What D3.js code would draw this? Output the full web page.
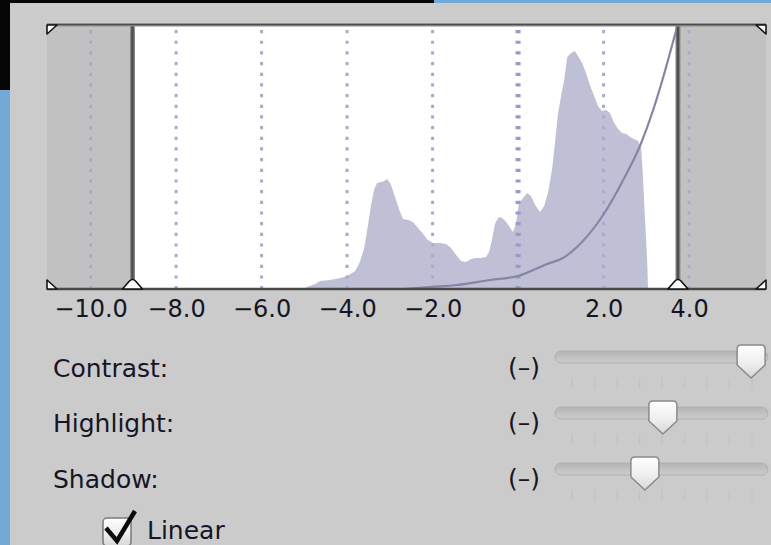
<!DOCTYPE html>
<html>
<head>
<meta charset="utf-8">
<script src="https://cdn.jsdelivr.net/npm/d3@7/dist/d3.min.js"></script>
<style>
  html, body { margin: 0; padding: 0; background: #cbcbcb; overflow: hidden; }
  svg { display: block; }
  text { font-family: "DejaVu Sans", "Verdana", sans-serif; fill: #151525; }
</style>
</head>
<body>
<svg id="chart" width="771" height="545"></svg>
<script>
// ---------------- data ----------------
const axisDomain = [-11.02, 5.80];            // value range of the histogram panel
const tickValues = [-10, -8, -6, -4, -2, 0, 2, 4];
const clipLimits = [-9.02, 3.74];             // low / high clip handles
const countMax = 264;                          // top of panel in count units

const histV = [-5.01,-4.94,-4.75,-4.63,-4.40,-4.16,-4.00,-3.81,-3.70,-3.60,-3.51,-3.44,-3.37,-3.30,-3.20,-3.13,-3.06,-2.97,-2.88,-2.78,-2.69,-2.57,-2.46,-2.34,-2.22,-2.11,-1.99,-1.82,-1.68,-1.57,-1.45,-1.33,-1.22,-1.10,-0.98,-0.87,-0.75,-0.68,-0.61,-0.54,-0.47,-0.40,-0.30,-0.21,-0.12,-0.05,0.02,0.12,0.21,0.30,0.40,0.51,0.61,0.70,0.80,0.87,0.94,1.01,1.08,1.15,1.24,1.33,1.40,1.50,1.59,1.68,1.78,1.87,1.96,2.06,2.15,2.25,2.34,2.43,2.53,2.62,2.71,2.81,2.88,2.92,2.97,3.02,3.04];
const histCount = [0,2,5,8,9,11,13,18,27,41,64,84,99,106,107,108,110,104,92,79,70,69,67,61,55,49,46,46,45,41,34,28,27,30,31,31,32,37,49,65,71,72,68,63,57,65,86,91,96,93,84,77,83,96,121,149,177,194,209,232,236,238,233,226,216,204,193,183,178,179,176,166,160,156,155,152,150,148,141,114,69,29,0];

const curveV = [-2.64,-2.06,-1.43,-0.65,0.00,0.68,1.05,1.45,1.99,2.46,2.88,3.16,3.39,3.56,3.72];
const curveH = [0,2,4,9,13,25,31,45,74,109,146,179,211,237,262];

const sliderLabels = ["Contrast:", "Highlight:", "Shadow:"];
const sliderValues = [0.995, 0.505, 0.405];
const sliderTickCount = 9;
const checkboxLabel = "Linear";

// ---------------- layout ----------------
const svg = d3.select("#chart");
const P = { left: 47, right: 766, top: 25, bottom: 289 };

const x = d3.scaleLinear().domain(axisDomain).range([P.left, P.right]);
const y = d3.scaleLinear().domain([0, countMax]).range([P.bottom, P.top]);

// window decorations (screenshot edges)
svg.append("rect").attr("x", 0).attr("y", 0).attr("width", 771).attr("height", 545).attr("fill", "#cbcbcb");
svg.append("rect").attr("x", 0).attr("y", 0).attr("width", 434).attr("height", 3).attr("fill", "#050505");
svg.append("rect").attr("x", 434).attr("y", 0).attr("width", 337).attr("height", 3).attr("fill", "#72a9d7");
svg.append("rect").attr("x", 0).attr("y", 0).attr("width", 10).attr("height", 90).attr("fill", "#050505");
svg.append("rect").attr("x", 0).attr("y", 90).attr("width", 10).attr("height", 455).attr("fill", "#72a9d7");

// panel
const g = svg.append("g");
g.append("rect").attr("x", x(axisDomain[0])).attr("y", P.top)
  .attr("width", x(clipLimits[0]) - x(axisDomain[0])).attr("height", P.bottom - P.top).attr("fill", "#c1c1c1");
g.append("rect").attr("x", x(clipLimits[1])).attr("y", P.top)
  .attr("width", x(axisDomain[1]) - x(clipLimits[1])).attr("height", P.bottom - P.top).attr("fill", "#c1c1c1");
g.append("rect").attr("x", x(clipLimits[0])).attr("y", P.top)
  .attr("width", x(clipLimits[1]) - x(clipLimits[0])).attr("height", P.bottom - P.top).attr("fill", "#ffffff");

// histogram
const hist = histV.map((v, i) => [v, histCount[i]]);
g.append("path").datum(hist)
  .attr("fill", "#bfbfd6")
  .attr("d", d3.area().x(d => x(d[0])).y0(y(0)).y1(d => y(d[1])).curve(d3.curveLinear));

// dotted grid lines
g.selectAll("line.grid").data(tickValues).join("line")
  .attr("class", "grid")
  .attr("x1", d => x(d)).attr("x2", d => x(d))
  .attr("y1", P.top + 5).attr("y2", P.bottom)
  .attr("stroke", d => d === 0 ? "#9a9aca" : "#a9a9d3")
  .attr("stroke-width", d => d === 0 ? 5 : 3)
  .attr("stroke-dasharray", "3.2,7.47");

// transfer curve
const curve = curveV.map((v, i) => [v, curveH[i]]);
g.append("path").datum(curve)
  .attr("fill", "none").attr("stroke", "#8585a6").attr("stroke-width", 2.2)
  .attr("d", d3.line().x(d => x(d[0])).y(d => y(d[1])).curve(d3.curveMonotoneX));

// clip lines
clipLimits.forEach(c => {
  g.append("line").attr("x1", x(c)).attr("x2", x(c)).attr("y1", P.top).attr("y2", P.bottom)
    .attr("stroke", "#8a8a8a").attr("stroke-width", 5);
  g.append("line").attr("x1", x(c)).attr("x2", x(c)).attr("y1", P.top).attr("y2", P.bottom)
    .attr("stroke", "#4f4f4f").attr("stroke-width", 2.5);
});

// top border and axis line
g.append("line").attr("x1", P.left).attr("x2", P.right).attr("y1", P.top).attr("y2", P.top)
  .attr("stroke", "#8f8f8f").attr("stroke-width", 3);
g.append("line").attr("x1", P.left).attr("x2", P.right).attr("y1", P.top - 0.5).attr("y2", P.top - 0.5)
  .attr("stroke", "#4c4c4c").attr("stroke-width", 1.5);
g.append("line").attr("x1", P.left).attr("x2", P.right).attr("y1", P.bottom).attr("y2", P.bottom)
  .attr("stroke", "#484848").attr("stroke-width", 2.5);

// clip handles (triangles on the axis)
clipLimits.forEach(c => {
  const cx = x(c);
  g.append("path")
    .attr("d", `M${cx - 10},${P.bottom} L${cx - 3},${P.bottom - 8} Q${cx},${P.bottom - 11} ${cx + 3},${P.bottom - 8} L${cx + 10},${P.bottom} Z`)
    .attr("fill", "#ffffff").attr("stroke", "#111").attr("stroke-width", 1.6).attr("stroke-linejoin", "round");
});

// corner markers
const corners = [
  `M${P.left},${P.top} L${P.left + 10},${P.top} L${P.left},${P.top + 9} Z`,
  `M${P.left},${P.bottom} L${P.left + 10},${P.bottom} L${P.left},${P.bottom - 9} Z`,
  `M${P.right},${P.top} L${P.right - 10},${P.top} L${P.right},${P.top + 9} Z`,
  `M${P.right},${P.bottom} L${P.right - 10},${P.bottom} L${P.right},${P.bottom - 9} Z`
];
g.selectAll("path.corner").data(corners).join("path").attr("class", "corner")
  .attr("d", d => d).attr("fill", "#ffffff").attr("stroke", "#151515").attr("stroke-width", 1.6)
  .attr("stroke-linejoin", "round");

// axis labels
const axis = d3.axisBottom(x).tickValues(tickValues).tickSize(0)
  .tickFormat(d => d === 0 ? "0" : d3.format(".1f")(d));
const ag = svg.append("g").attr("transform", `translate(0,${P.bottom})`).call(axis);
ag.select(".domain").remove();
ag.selectAll("text").attr("y", 28).attr("dy", 0)
  .style("font-family", '"DejaVu Sans", sans-serif').style("font-size", "24px").attr("fill", "#151525");

// ---------------- sliders ----------------
const trackY = [357, 413, 469];
const labelBase = [377, 432, 488];
const sx = d3.scaleLinear().domain([0, 1]).range([572, 752]);

const defs = svg.append("defs");
const tg = defs.append("linearGradient").attr("id", "thumbGrad").attr("x1", 0).attr("y1", 0).attr("x2", 0).attr("y2", 1);
tg.append("stop").attr("offset", "0%").attr("stop-color", "#ffffff");
tg.append("stop").attr("offset", "60%").attr("stop-color", "#ececec");
tg.append("stop").attr("offset", "100%").attr("stop-color", "#d6d6d6");
const trg = defs.append("linearGradient").attr("id", "trackGrad").attr("x1", 0).attr("y1", 0).attr("x2", 0).attr("y2", 1);
trg.append("stop").attr("offset", "0%").attr("stop-color", "#b4b4b4");
trg.append("stop").attr("offset", "100%").attr("stop-color", "#cdcdcd");

sliderLabels.forEach((lab, i) => {
  svg.append("text").attr("x", 53).attr("y", labelBase[i]).style("font-size", "25px").text(lab);
  svg.append("text").attr("x", 508).attr("y", labelBase[i] - 1).style("font-size", "25px").text("(–)");
  const ty = trackY[i];
  svg.append("rect").attr("x", 555).attr("y", ty - 6).attr("width", 213).attr("height", 12).attr("rx", 6)
    .attr("fill", "url(#trackGrad)").attr("stroke", "#b0b0b0").attr("stroke-width", 1);
  d3.range(sliderTickCount).forEach(k => {
    const tx = sx(k / (sliderTickCount - 1));
    svg.append("line").attr("x1", tx).attr("x2", tx).attr("y1", ty + 21).attr("y2", ty + 32)
      .attr("stroke", "#c2c2c2").attr("stroke-width", 1.2);
  });
  const cx = sx(sliderValues[i]);
  const top = ty - 12;
  svg.append("path")
    .attr("d", `M${cx - 14},${top + 4} Q${cx - 14},${top} ${cx - 10},${top} L${cx + 10},${top} Q${cx + 14},${top} ${cx + 14},${top + 4} L${cx + 14},${top + 20} L${cx},${top + 33} L${cx - 14},${top + 20} Z`)
    .attr("fill", "url(#thumbGrad)").attr("stroke", "#8a8a8a").attr("stroke-width", 1.5).attr("stroke-linejoin", "round");
});

// checkbox
svg.append("rect").attr("x", 103).attr("y", 518).attr("width", 28).attr("height", 28).attr("rx", 4)
  .attr("fill", "url(#thumbGrad)").attr("stroke", "#7a7a7a").attr("stroke-width", 1.5);
svg.append("path").attr("d", "M106,528 L117,541 L135,511")
  .attr("fill", "none").attr("stroke", "#0a0a0a").attr("stroke-width", 4.5).attr("stroke-linejoin", "miter");
svg.append("text").attr("x", 147).attr("y", 539).style("font-size", "25px").text(checkboxLabel);
</script>
</body>
</html>
